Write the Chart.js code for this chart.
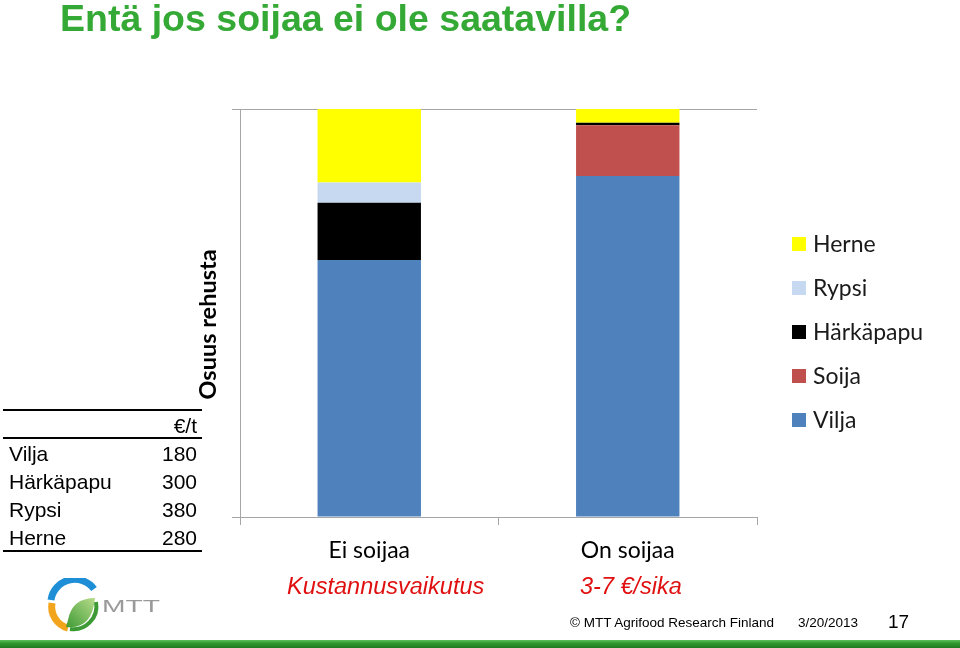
<!DOCTYPE html>
<html>
<head>
<meta charset="utf-8">
<script src="https://cdn.jsdelivr.net/npm/chart.js@4.4.1/dist/chart.umd.min.js"></script>
<style>
  html, body { margin:0; padding:0; background:#fff; }
  #wrap { position:relative; width:960px; height:648px; overflow:hidden; background:#fff; }
  #c { position:absolute; left:0; top:0; }
  .abs { position:absolute; white-space:nowrap; }
  #title { left:60px; top:0px; font:bold 37.5px "Liberation Sans", Arial, sans-serif; line-height:37px; color:#35a935; }
  .red { font:italic 23.5px "Liberation Sans", Arial, sans-serif; color:#e01010; line-height:23px; }
  #tbl { position:absolute; left:3px; top:409px; width:199px; font:21px "Liberation Sans", Arial, sans-serif; color:#000; }
  #tbl .row { position:absolute; left:0; width:199px; height:28px; }
  #tbl .row span.l { position:absolute; left:6px; }
  #tbl .row span.r { position:absolute; right:5px; }
  .hl { position:absolute; left:0; width:199px; height:2px; background:#000; }
  .foot { font:13.5px "Liberation Sans", Arial, sans-serif; color:#000; }
  #greenbar { left:0; top:640px; width:960px; height:8px; background:linear-gradient(#5cc05c,#2f9a2f 40%,#1f7a1f); }
</style>
</head>
<body>
<div id="wrap">
  <canvas id="c" width="960" height="648"></canvas>
  <div id="title" class="abs">Entä jos soijaa ei ole saatavilla?</div>
  <div id="tbl"></div>
  <div class="abs red" style="left:287px; top:575px;">Kustannusvaikutus</div>
  <div class="abs red" style="left:580px; top:575px;">3-7 €/sika</div>
  <svg class="abs" style="left:44px; top:578px;" width="125" height="56" viewBox="0 0 125 56">
    <defs>
      <linearGradient id="leaf" x1="0" y1="1" x2="1" y2="0">
        <stop offset="0" stop-color="#3f9b35"/>
        <stop offset="1" stop-color="#b7dc8a"/>
      </linearGradient>
    </defs>
    <path d="M7 22 A24 24 0 0 1 50 11" stroke="#1e8fd6" stroke-width="7" fill="none"/>
    <path d="M8 25 A22 22 0 0 0 24 50" stroke="#f2a51c" stroke-width="7" fill="none"/>
    <path d="M22 49 Q48 52 51 20 Q28 20 24 42 Z" fill="url(#leaf)"/>
    <path d="M26 51 A23 23 0 0 0 52 24" stroke="#3d9a35" stroke-width="4" fill="none"/>
    <text x="58" y="34" font-family="Liberation Sans, Arial" font-size="17" fill="#9a9a9a" textLength="58" lengthAdjust="spacingAndGlyphs">MTT</text>
  </svg>
  <div class="abs foot" style="left:570px; top:615px;">© MTT Agrifood Research Finland</div>
  <div class="abs foot" style="left:798px; top:615px;">3/20/2013</div>
  <div class="abs" style="left:888px; top:611px; font:19px 'Liberation Sans', Arial, sans-serif;">17</div>
  <div id="greenbar" class="abs"></div>
</div>
<script>
// ---- data ----
const categories = ["Ei soijaa", "On soijaa"];
const vilja      = [63, 83.6];
const soija      = [0, 12.4];
const harkapapu  = [14, 0.6];
const rypsi      = [5, 0];
const herne      = [18, 3.4];
const feedNames  = ["Vilja", "Härkäpapu", "Rypsi", "Herne"];
const feedPrices = [180, 300, 380, 280];
const priceUnit  = "€/t";

// ---- price table ----
const tbl = document.getElementById('tbl');
let html = '<div class="hl" style="top:0px"></div>';
html += '<div class="row" style="top:5px"><span class="r">' + priceUnit + '</span></div>';
html += '<div class="hl" style="top:28px"></div>';
feedNames.forEach((n, i) => {
  html += '<div class="row" style="top:' + (33 + i * 28) + 'px"><span class="l">' + n + '</span><span class="r">' + feedPrices[i] + '</span></div>';
});
html += '<div class="hl" style="top:141px"></div>';
tbl.innerHTML = html;

// ---- legend plugin ----
const sideLegend = {
  id: 'sideLegend',
  afterDraw(chart) {
    const ctx = chart.ctx;
    const ds = chart.data.datasets.slice().reverse();
    ctx.save();
    ds.forEach((d, i) => {
      const cy = 244 + i * 44;
      ctx.fillStyle = d.backgroundColor;
      ctx.fillRect(792, cy - 7, 14, 14);
      ctx.fillStyle = '#1a1a1a';
      ctx.font = '23px Lato';
      ctx.textBaseline = 'middle';
      ctx.textAlign = 'left';
      ctx.fillText(d.label, 813, cy + 1);
    });
    ctx.restore();
  }
};

const axisGray = '#a6a6a6';
new Chart(document.getElementById('c'), {
  type: 'bar',
  data: {
    labels: categories,
    datasets: [
      { label: 'Vilja', data: vilja, backgroundColor: '#4f81bd' },
      { label: 'Soija', data: soija, backgroundColor: '#c0504d' },
      { label: 'Härkäpapu', data: harkapapu, backgroundColor: '#000000' },
      { label: 'Rypsi', data: rypsi, backgroundColor: '#c6d9f1' },
      { label: 'Herne', data: herne, backgroundColor: '#ffff00' }
    ]
  },
  options: {
    responsive: false,
    animation: false,
    barPercentage: 0.4,
    categoryPercentage: 1,
    layout: { padding: { left: 0, top: 109, right: 203, bottom: 71 } },
    plugins: { legend: { display: false }, tooltip: { enabled: false } },
    scales: {
      x: {
        stacked: true,
        afterFit(s) { s.height = 60; },
        border: { display: true, color: axisGray, width: 1 },
        grid: { offset: true, drawOnChartArea: false, drawTicks: true, tickLength: 8, color: axisGray },
        ticks: { color: '#000', padding: 12, font: { family: 'Lato', size: 23 } }
      },
      y: {
        stacked: true,
        min: 0, max: 100,
        afterFit(s) { s.width = 240; },
        border: { display: true, color: axisGray, width: 1 },
        grid: { color: axisGray, tickLength: 8, drawTicks: true },
        ticks: { display: false, stepSize: 100 },
        title: {
          display: true,
          text: 'Osuus rehusta    ',
          color: '#000',
          font: { family: 'Lato', size: 23.5, weight: 'bold' },
          padding: { top: 194, bottom: 0 }
        }
      }
    }
  },
  plugins: [sideLegend]
});
</script>
</body>
</html>
